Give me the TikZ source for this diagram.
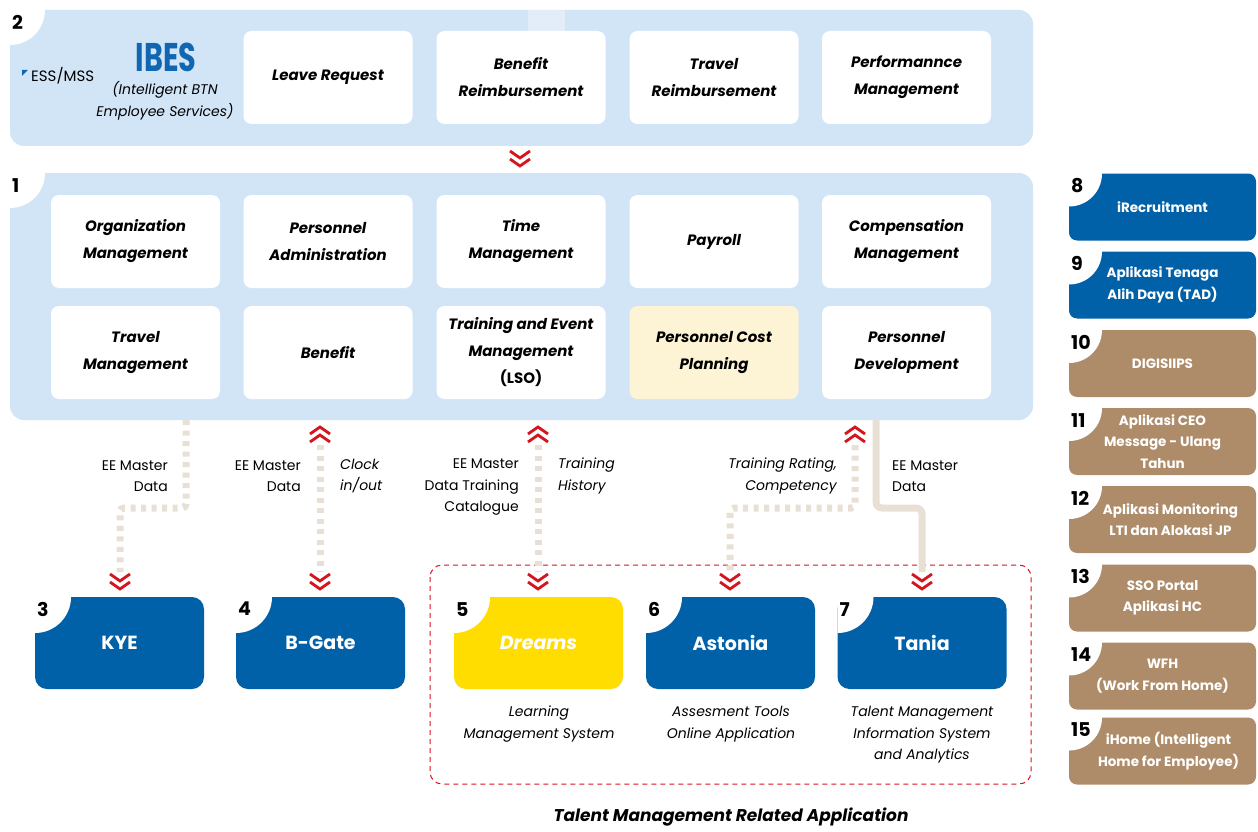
\documentclass[tikz,border=0pt]{standalone}
\usepackage{fontspec}
\setmainfont{Poppins}
\usetikzlibrary{calc}
\definecolor{panelblue}{HTML}{D2E5F7}
\definecolor{tabblue}{HTML}{E2EDF9}
\definecolor{boxblue}{HTML}{0061A8}
\definecolor{ibesblue}{HTML}{1066B0}
\definecolor{brownbox}{HTML}{AE8C69}
\definecolor{yellowbox}{HTML}{FFDD00}
\definecolor{creambox}{HTML}{FDF4D6}
\definecolor{beige}{HTML}{E8E0D5}
\definecolor{chevred}{HTML}{D5141E}
\newcommand\qcorner[3]{%
  \begin{scope}
    \clip (#1.north west) rectangle ($(#1.north west)+(#3,#3)$);
    \fill[white] (#1.north west) circle[radius=#3];
  \end{scope}
  \node[numlbl] at ($(#1.north west)+(2,5)$) {#2};}
\tikzset{
  panel/.style={fill=panelblue, rounded corners=14pt, inner sep=0, outer sep=0},
  wbox/.style={fill=white, rounded corners=8pt, inner sep=0, outer sep=0,
     minimum width=169, minimum height=93, align=center,
     font=\fontsize{15}{27}\selectfont\bfseries\itshape},
  bbox/.style={fill=boxblue, rounded corners=12pt, inner sep=0, outer sep=0,
     minimum width=169, minimum height=92, align=center, text=white,
     font=\fontsize{19}{22}\selectfont\bfseries},
  rbox/.style={rounded corners=8pt, inner sep=0, outer sep=0,
     minimum width=187, minimum height=67, align=center, text=white,
     font=\fontsize{13.5}{21.5}\selectfont\bfseries},
  rtext/.style={inner sep=0, align=center, text=white,
     font=\fontsize{13.5}{21.5}\selectfont\bfseries},
  numlbl/.style={anchor=north west, inner sep=0, font=\fontsize{19}{19}\selectfont\bfseries},
  lbl/.style={inner sep=0, font=\fontsize{14}{21.5}\selectfont},
  ilbl/.style={inner sep=0, font=\fontsize{14}{21.5}\selectfont\itshape},
  dotline/.style={draw=beige, line width=7pt, dash pattern=on 5pt off 5.5pt, rounded corners=4pt},
  solidline/.style={draw=beige, line width=7pt, rounded corners=6pt},
  chevdown/.pic={\draw[chevred, line width=2.8pt] (-10,0)--(0,7)--(10,0) (-10,8)--(0,15)--(10,8);},
  chevup/.pic={\draw[chevred, line width=2.8pt] (-10,7)--(0,0)--(10,7) (-10,15)--(0,8)--(10,15);},
}
\begin{document}
\begin{tikzpicture}[x=1pt,y=-1pt]
\useasboundingbox (0,0) rectangle (1258,832);

% ---------- panel 2 ----------
\node[panel, minimum width=1023, minimum height=136] (p2) at (521.5,78) {};
\fill[tabblue] (528,10) rectangle (565,31);
\qcorner{p2}{2}{35}
\fill[ibesblue] (22,70) -- (28,70) -- (22,76) -- cycle;
\node[lbl, anchor=west, font=\fontsize{15}{18}\selectfont] (ess) at (31,76) {ESS/MSS};
\node[inner sep=0, text=ibesblue, font=\fontsize{40}{40}\selectfont\bfseries] (ibes) at (166,57) {\scalebox{0.72}[1]{IBES}};
\node[ilbl, align=center] (ibesfull) at (165,101) {(Intelligent BTN\\Employee Services)};
\node[wbox] (lr) at (328,77.5) {Leave Request};
\node[wbox] (br) at (521,77.5) {Benefit\\Reimbursement};
\node[wbox] (tr) at (714,77.5) {Travel\\Reimbursement};
\node[wbox] (pm) at (906.5,77.5) {Performannce\\Management};

\pic at (520,151) {chevdown};

% ---------- panel 1 ----------
\node[panel, minimum width=1023, minimum height=247] (p1) at (521.5,296.5) {};
\qcorner{p1}{1}{35}
\node[wbox] (om) at (135.5,241.5) {Organization\\Management};
\node[wbox] (pa) at (328,241.5) {Personnel\\Administration};
\node[wbox] (tm) at (521,241.5) {Time\\Management};
\node[wbox] (pay) at (714,241.5) {Payroll};
\node[wbox] (cm) at (906.5,241.5) {Compensation\\Management};
\node[wbox] (trm) at (135.5,352.5) {Travel\\Management};
\node[wbox] (ben) at (328,352.5) {Benefit};
\node[wbox] (tem) at (521,352.5) {Training and Event\\Management\\{\upshape(LSO)}};
\node[wbox, fill=creambox] (pcp) at (714,352.5) {Personnel Cost\\Planning};
\node[wbox] (pd) at (906.5,352.5) {Personnel\\Development};

% ---------- talent group ----------
\draw[chevred, line width=1pt, dash pattern=on 5pt off 4pt, rounded corners=12pt] (430,565) rectangle (1031,784);
\node[inner sep=0, font=\fontsize{17}{20}\selectfont\bfseries\itshape] (tmra) at (731,817) {Talent Management Related Application};

% ---------- bottom boxes ----------
\node[bbox] (kye) at (119.5,643) {KYE};
\node[bbox] (bg) at (320.5,643) {B-Gate};
\node[bbox, fill=yellowbox, font=\fontsize{19}{22}\selectfont\bfseries\itshape] (dr) at (538.5,643) {Dreams};
\node[bbox] (ast) at (730.5,643) {Astonia};
\node[bbox] (tan) at (922,643) {Tania};
\qcorner{kye}{3}{36}
\qcorner{bg}{4}{36}
\qcorner{dr}{5}{36}
\qcorner{ast}{6}{36}
\qcorner{tan}{7}{36}
\node[ilbl, align=center] (c5) at (539,724) {Learning\\Management System};
\node[ilbl, align=center] (c6) at (731,724) {Assesment Tools\\Online Application};
\node[ilbl, align=center] (c7) at (922,735) {Talent Management\\Information System\\and Analytics};

% ---------- connectors ----------
% KYE
\coordinate (kyeS) at (186,420);
\coordinate (kyeM) at (120,508);
\coordinate (kyeE) at (120,572);
\draw[dotline] (kyeS) |- (kyeM) -- (kyeE);
\pic at (120,574) {chevdown};
\node[lbl, align=right, anchor=east] (l1) at (168,476) {EE Master\\Data};
% B-Gate
\coordinate (bgS) at (320,445);
\coordinate (bgE) at (320,572);
\draw[dotline] (bgS) -- (bgE);
\pic at (320,427) {chevup};
\pic at (320,574) {chevdown};
\node[lbl, align=right, anchor=east] (l2) at (301,476) {EE Master\\Data};
\node[ilbl, align=left, anchor=west] (l3) at (340,476) {Clock\\in/out};
% Dreams
\coordinate (drS) at (538,445);
\coordinate (drE) at (538,572);
\draw[dotline] (drS) -- (drE);
\pic at (538,427) {chevup};
\pic at (538,574) {chevdown};
\node[lbl, align=right, anchor=east] (l4) at (519,487) {EE Master\\Data Training\\Catalogue};
\node[ilbl, align=left, anchor=west] (l5) at (558,476) {Training\\History};
% Astonia
\coordinate (asS) at (855,445);
\coordinate (asM) at (730,508);
\coordinate (asE) at (730,572);
\draw[dotline] (asS) |- (asM) -- (asE);
\pic at (855,427) {chevup};
\pic at (730,574) {chevdown};
\node[ilbl, align=right, anchor=east] (l6) at (837,476) {Training Rating,\\Competency};
% Tania
\coordinate (taS) at (876,420);
\coordinate (taM) at (922,508);
\coordinate (taE) at (922,572);
\draw[solidline] (taS) |- (taM) -- (taE);
\pic at (922,574) {chevdown};
\node[lbl, align=left, anchor=west] (l7) at (892,476) {EE Master\\Data};

% ---------- right column ----------
\node[rbox, fill=boxblue] (r8) at (1162.5,207) {iRecruitment};
\node[rbox, fill=boxblue] (r9) at (1162.5,285) {Aplikasi Tenaga\\Alih Daya (TAD)};
\node[rbox, fill=brownbox] (r10) at (1162.5,363.5) {DIGISIIPS};
\node[rbox, fill=brownbox] (r11) at (1162.5,441.5) {Aplikasi CEO\\Message - Ulang\\Tahun};
\node[rbox, fill=brownbox] (r12) at (1162.5,519.5) {};
\node[rbox, fill=brownbox] (r13) at (1162.5,598) {SSO Portal\\Aplikasi HC};
\node[rbox, fill=brownbox] (r14) at (1162.5,676) {WFH\\(Work From Home)};
\node[rbox, fill=brownbox] (r15) at (1162.5,751) {};
\qcorner{r8}{8}{33}
\qcorner{r9}{9}{33}
\qcorner{r10}{10}{33}
\qcorner{r11}{11}{33}
\qcorner{r12}{12}{33}
\qcorner{r13}{13}{33}
\qcorner{r14}{14}{33}
\qcorner{r15}{15}{33}
\node[rtext] (r12t) at ($(r12.center)+(8,0)$) {Aplikasi Monitoring\\LTI dan Alokasi JP};
\node[rtext] (r15t) at ($(r15.center)+(6,0)$) {iHome (Intelligent\\Home for Employee)};
\end{tikzpicture}
\end{document}
